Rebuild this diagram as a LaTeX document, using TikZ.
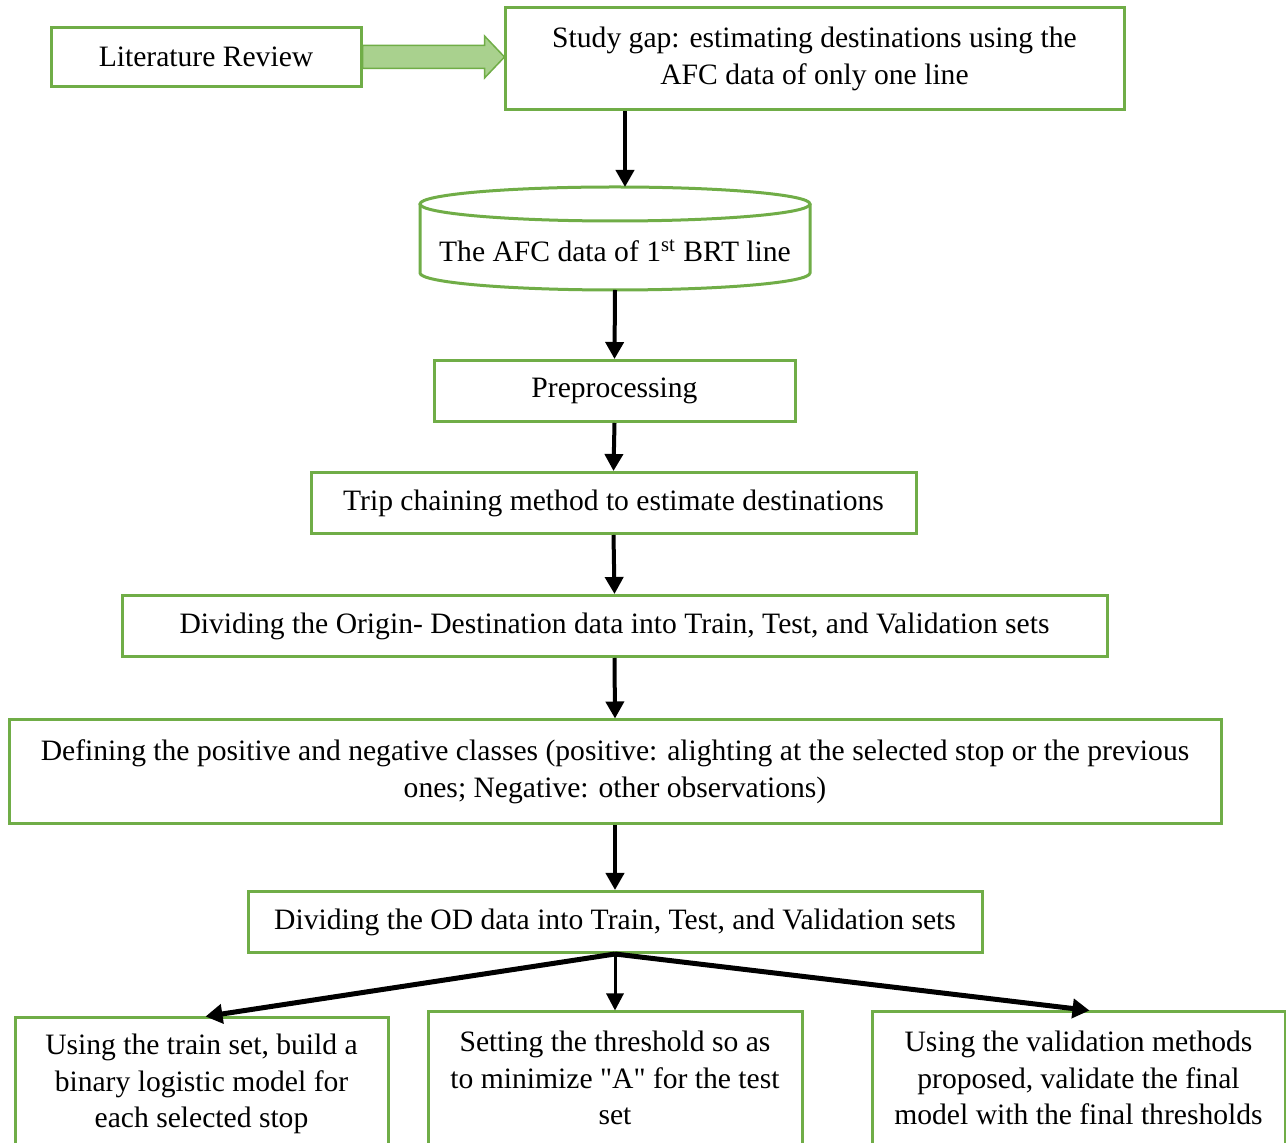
\documentclass[tikz,border=0pt]{standalone}
\usepackage{fontspec}
\setmainfont{Liberation Serif}
\newfontfamily\rawserif{Liberation Serif}
\usetikzlibrary{arrows.meta,calc}
\definecolor{gborder}{HTML}{70AD47}
\definecolor{gfill}{HTML}{A9D18E}
\begin{document}
\begin{tikzpicture}[x=0.5pt,y=-0.5pt,
  box/.style={draw=gborder,line width=1.5pt,align=center,inner sep=0pt,fill=white,
    font=\fontsize{14.8}{18.25}\selectfont},
  arr/.style={draw=black,line width=2pt,-{Triangle[length=8.5pt,width=9pt]}},
  farr/.style={draw=black,line width=2.5pt,-{Triangle[length=8.5pt,width=9.5pt]}},
  marr/.style={draw=black,line width=1.5pt,-{Triangle[length=8.5pt,width=8.5pt]}}]
\clip (0,0) rectangle (1286,1143);
\fill[white] (0,0) rectangle (1286,1143);

\node[box,minimum width=155pt,minimum height=29.5pt] (lit) at (206,57) {Literature Review};
\node[box,minimum width=309.5pt,minimum height=51pt] (gap) at (814.5,59)
  {Study gap: estimating destinations using the\\AFC data of only one line};

% block arrow
\draw[draw=gborder,fill=gfill,line width=0.75pt] (lit.east) ++(0,-11.5) -- ++(122,0) -- ++(0,-9.5)
  -- ++(20,21) -- ++(-20,21) -- ++(0,-9.5) -- ++(-122,0) -- cycle;

% cylinder
\draw[gborder,line width=1.5pt,fill=white] (420,204) -- (420,273)
  arc[start angle=180,end angle=360,x radius=97.5pt,y radius=8.5pt] -- (810,204);
\draw[gborder,line width=1.5pt] (615,204) ellipse[x radius=97.5pt,y radius=8.5pt];
\coordinate (afctop) at (625,187);
\coordinate (afcbot) at (615,290);
\node[font=\fontsize{14.8}{18.25}\selectfont,inner sep=0pt] (afc) at (615,251)
  {The AFC data of 1\textsuperscript{st} BRT line};

\node[box,minimum width=180.5pt,minimum height=30.5pt] (prep) at (614.5,391) {Preprocessing};
\node[box,minimum width=302.5pt,minimum height=30.5pt] (trip) at (613.5,503)
  {Trip chaining method to estimate destinations};
\node[box,minimum width=492.5pt,minimum height=30.5pt] (dor) at (614.5,626)
  {Dividing the Origin- Destination data into Train, Test, and Validation sets};
\node[box,minimum width=606pt,minimum height=52pt] (def) at (615,772)
  {Defining the positive and negative classes (positive: alighting at the selected stop or the previous\\ones; Negative: other observations)};
\node[box,minimum width=367pt,minimum height=30.5pt] (dod) at (615,922)
  {Dividing the OD data into Train, Test, and Validation sets};

\node[box,minimum width=186.5pt,minimum height=66pt] (b1) at (201.5,1084)
  {Using the train set, build a\\binary logistic model for\\each selected stop};
\node[box,minimum width=187pt,minimum height=66pt] (b2) at (615,1078)
  {Setting the threshold so as\\to minimize {\rawserif "A"} for the test\\set};
\node[box,minimum width=206.5pt,minimum height=66pt] (b3) at (1078.5,1078)
  {Using the validation methods\\proposed, validate the final\\model with the final thresholds};

\draw[arr] (gap.south -| afctop) -- (afctop);
\draw[arr] (afcbot) -- (prep.north);
\draw[arr] (prep.south) -- (trip.north);
\draw[arr] (trip.south) -- (dor.north);
\draw[arr] (dor.south) -- (def.north);
\draw[arr] (def.south) -- (dod.north);
\draw[farr] (dod.south) -- ([xshift=2pt]b1.north);
\draw[marr] (dod.south) -- (b2.north);
\draw[farr] (dod.south) -- ([xshift=5.5pt]b3.north);
\end{tikzpicture}
\end{document}
